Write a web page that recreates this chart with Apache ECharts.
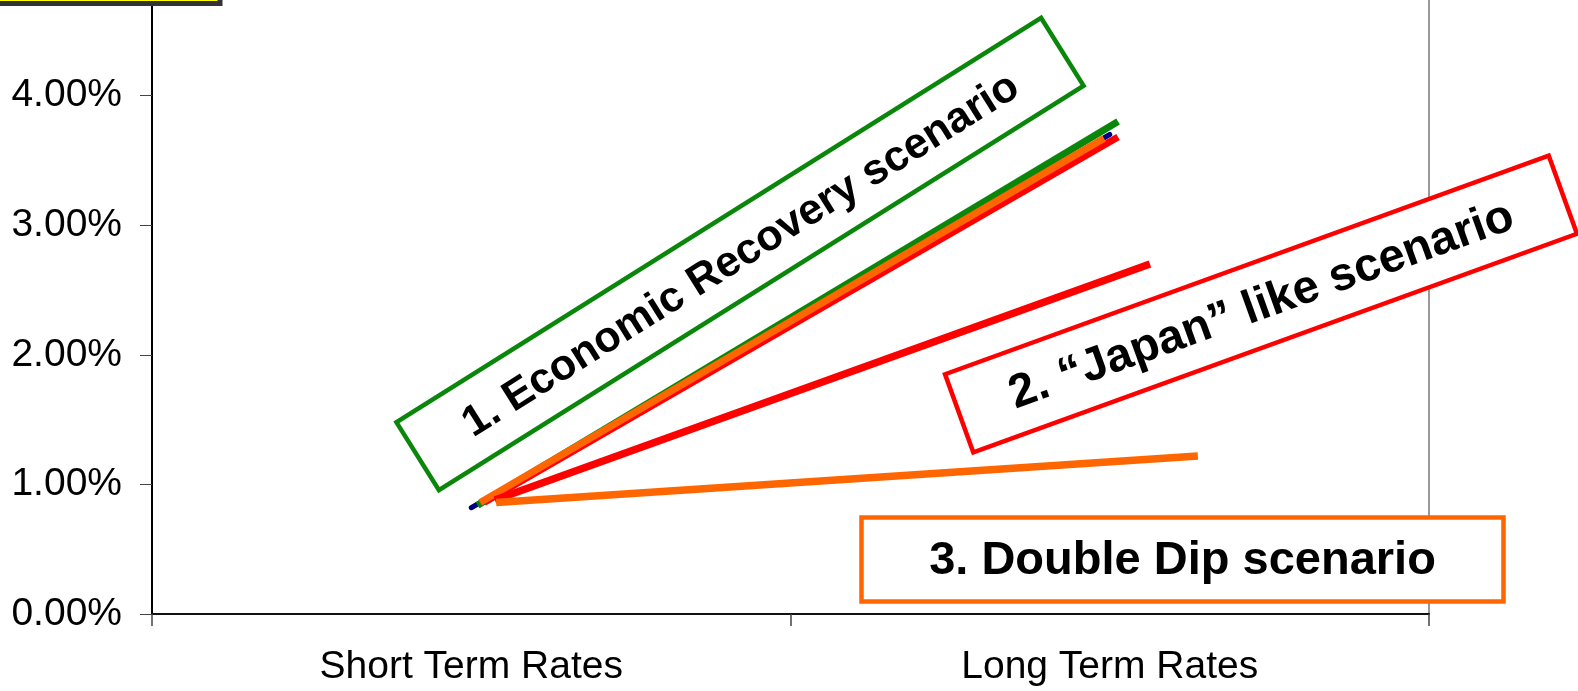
<!DOCTYPE html>
<html>
<head>
<meta charset="utf-8">
<title>Yield curve scenarios</title>
<script src="https://cdn.jsdelivr.net/npm/echarts@6/dist/echarts.min.js"></script>
<style>
  html, body { margin: 0; padding: 0; background: #fff; }
  #chart { width: 1578px; height: 691px; }
</style>
</head>
<body>
<div id="chart"></div>
<script>
// Category axis and tick values (percent)
const categories = ['Short Term Rates', 'Long Term Rates'];
const yTicks = [0, 1, 2, 3, 4, 5];

// Current yield curve (percent) at short and long end
const baseCurve = [0.82, 3.70];

// Scenario strokes as [position along the axis (0..2), rate %]
// position 0.5 = short-term centre, 1.5 = long-term centre
const recoveryGreen = [[0.51, 0.84], [1.513, 3.80]];
const recoveryRed = [[0.52, 0.86], [1.513, 3.68]];
const recoveryOrange = [[0.514, 0.86], [1.491, 3.67]];
const japanLine = [[0.537, 0.88], [1.563, 2.70]];
const doubleDipLine = [[0.539, 0.86], [1.638, 1.22]];

// Scenario captions
const captionRecovery = '1. Economic Recovery scenario';
const captionJapan = '2. \u201cJapan\u201d like scenario';
const captionDoubleDip = '3. Double Dip scenario';

const FONT = '"Liberation Sans", Arial, Helvetica, sans-serif';
const GREEN = '#0a870a';
const RED = '#ff0000';
const ORANGE = '#ff6600';
const NAVY = '#000080';

const chart = echarts.init(document.getElementById('chart'), null, { renderer: 'canvas' });

function strokeSeries(data, color, width, z) {
  return {
    type: 'line',
    xAxisIndex: 1,
    data: data,
    showSymbol: false,
    symbol: 'none',
    z: z,
    lineStyle: { color: color, width: width, cap: 'butt' },
    silent: true
  };
}

function rotatedBox(cx, cy, w, h, deg, color, caption, fontSize) {
  return {
    type: 'group',
    x: cx,
    y: cy,
    rotation: deg * Math.PI / 180,
    z: 100,
    children: [
      {
        type: 'rect',
        shape: { x: -w / 2, y: -h / 2, width: w, height: h },
        style: { fill: '#fff', stroke: color, lineWidth: 4.5 }
      },
      {
        type: 'text',
        x: 0,
        y: 2,
        style: {
          text: caption,
          fill: '#000',
          font: 'bold ' + fontSize + 'px ' + FONT,
          align: 'center',
          verticalAlign: 'middle'
        }
      }
    ]
  };
}

const option = {
  animation: false,
  backgroundColor: '#fff',
  grid: {
    left: 152,
    right: 149,
    bottom: 77,
    top: -34,
    containLabel: false,
    outerBoundsMode: 'none',
    show: true,
    borderColor: '#999',
    borderWidth: 2,
    backgroundColor: 'transparent'
  },
  xAxis: [
    {
      type: 'category',
      data: categories,
      boundaryGap: true,
      axisLine: { show: true, lineStyle: { color: '#111', width: 2 } },
      axisTick: { show: true, length: 12, lineStyle: { color: '#444', width: 1.5 } },
      axisLabel: {
        margin: 34,
        color: '#000',
        fontSize: 39,
        fontFamily: FONT
      },
      splitLine: { show: false }
    },
    {
      type: 'value',
      min: 0,
      max: 2,
      show: false
    }
  ],
  yAxis: {
    type: 'value',
    min: yTicks[0],
    max: yTicks[yTicks.length - 1],
    interval: 1,
    axisLine: { show: true, lineStyle: { color: '#000', width: 2 } },
    axisTick: { show: true, length: 12, lineStyle: { color: '#444', width: 1 } },
    axisLabel: {
      margin: 30,
      color: '#000',
      fontSize: 39,
      fontFamily: FONT,
      formatter: function (v) { return v.toFixed(2) + '%'; }
    },
    splitLine: { show: false }
  },
  series: [
    {
      type: 'line',
      xAxisIndex: 0,
      data: baseCurve,
      showSymbol: false,
      symbol: 'none',
      z: 2,
      lineStyle: { color: NAVY, width: 5, cap: 'round' },
      silent: true
    },
    strokeSeries(recoveryGreen, GREEN, 7, 3),
    strokeSeries(recoveryRed, RED, 7, 4),
    strokeSeries(recoveryOrange, ORANGE, 7, 5),
    strokeSeries(japanLine, RED, 7.5, 6),
    strokeSeries(doubleDipLine, ORANGE, 7.5, 7)
  ],
  graphic: [
    // Title panel partly above the page edge
    {
      type: 'rect',
      shape: { x: -10, y: -50, width: 230, height: 53.5 },
      style: { fill: '#ffff00', stroke: '#333333', lineWidth: 5 },
      z: 100
    },
    rotatedBox(740, 254, 761, 80, 32.1, GREEN, captionRecovery, 43),
    rotatedBox(1261, 304, 642, 83, 19.9, RED, captionJapan, 47),
    {
      type: 'group',
      x: 1182.5,
      y: 559.5,
      z: 100,
      children: [
        {
          type: 'rect',
          shape: { x: -321, y: -42, width: 642, height: 84 },
          style: { fill: '#fff', stroke: ORANGE, lineWidth: 4.5 }
        },
        {
          type: 'text',
          x: 0,
          y: 2,
          style: {
            text: captionDoubleDip,
            fill: '#000',
            font: 'bold 47px ' + FONT,
            align: 'center',
            verticalAlign: 'middle'
          }
        }
      ]
    }
  ]
};

chart.setOption(option);
</script>
</body>
</html>
